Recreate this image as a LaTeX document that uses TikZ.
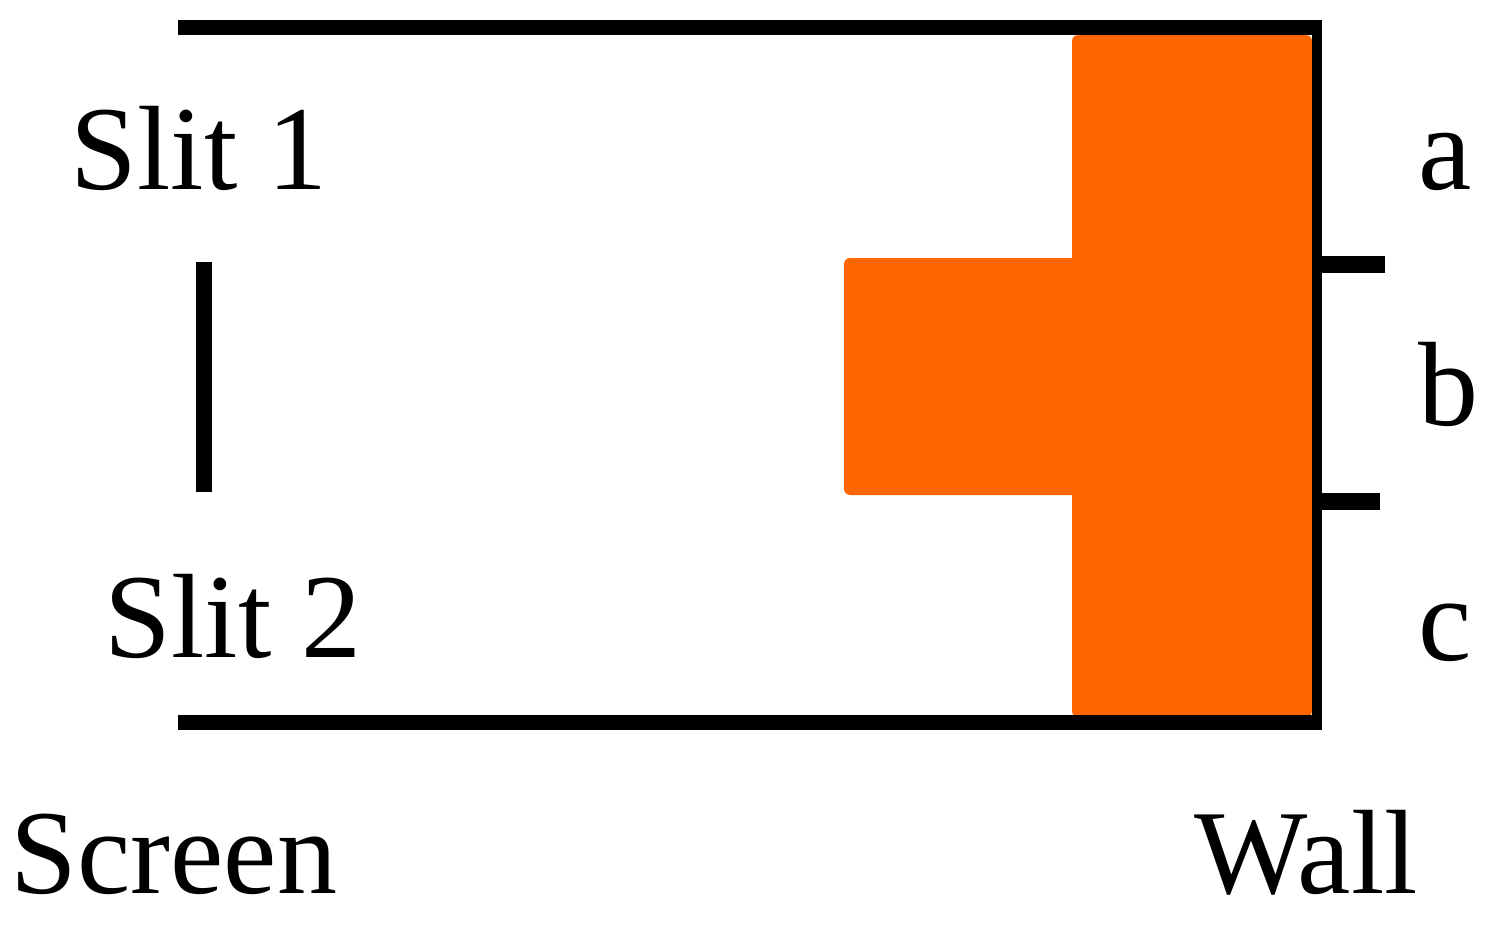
\documentclass[tikz,border=0pt]{standalone}
\usepackage{fontspec}
\setmainfont{Liberation Serif}
\definecolor{fillorange}{RGB}{255,102,0}
\begin{document}
\begin{tikzpicture}[x=1pt,y=-1pt,
  wall/.style={line width=15pt},
  lbl/.style={inner sep=0pt,anchor=base,font=\fontsize{120}{120}\selectfont}]
\useasboundingbox (0,0) rectangle (1502,928);
% orange intensity pattern
\fill[fillorange,rounded corners=6pt] (1072,35) rectangle (1312,717);
\fill[fillorange,rounded corners=6pt] (844,258) rectangle (1080,495);
% frame
\coordinate (tl) at (178,27.5);
\coordinate (tr) at (1322,27.5);
\coordinate (bl) at (178,722);
\coordinate (br) at (1322,722);
\draw[wall] (tl) -- (tr);
\draw[wall] (bl) -- (br);
\coordinate (wt) at (1317,27);
\coordinate (wb) at (1317,716);
\draw[line width=10pt] (wt) -- (wb);
% ticks
\coordinate (t1a) at (1312,264.5);
\coordinate (t1b) at (1385,264.5);
\coordinate (t2a) at (1312,501.5);
\coordinate (t2b) at (1380,501.5);
\draw[line width=17pt] (t1a) -- (t1b);
\draw[line width=17pt] (t2a) -- (t2b);
% slit bar
\coordinate (s1) at (204,262);
\coordinate (s2) at (204,492);
\draw[line width=16pt] (s1) -- (s2);
% labels
\node[lbl] (slit1) at (199,190) {Slit 1};
\node[lbl] (slit2) at (233,657) {Slit 2};
\node[lbl] (screen) at (174,893) {Screen};
\node[lbl] (wall) at (1306,893) {Wall};
\node[lbl] (a) at (1445,190) {a};
\node[lbl] (b) at (1448,425) {b};
\node[lbl] (c) at (1445,660) {c};
\end{tikzpicture}
\end{document}
